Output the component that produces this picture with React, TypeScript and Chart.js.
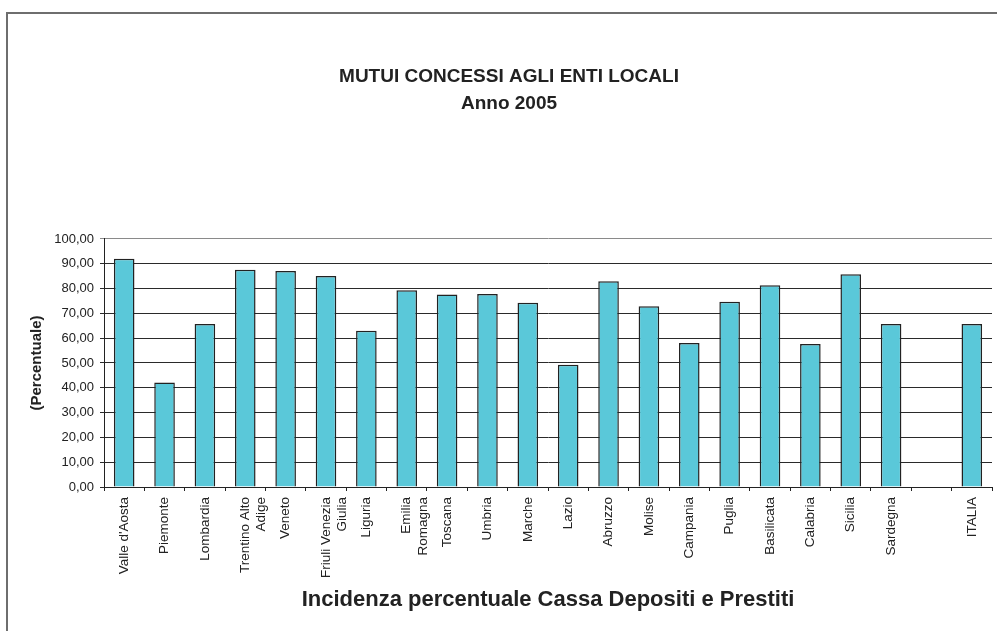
import React, { useEffect, useRef } from "react";
import { Chart, registerables } from "chart.js";

Chart.register(...registerables);

const categories: (string | string[])[] = [
  "Valle d'Aosta",
  "Piemonte",
  "Lombardia",
  ["Trentino Alto", "Adige"],
  "Veneto",
  ["Friuli Venezia", "Giulia"],
  "Liguria",
  ["Emilia", "Romagna"],
  "Toscana",
  "Umbria",
  "Marche",
  "Lazio",
  "Abruzzo",
  "Molise",
  "Campania",
  "Puglia",
  "Basilicata",
  "Calabria",
  "Sicilia",
  "Sardegna",
  "",
  "ITALIA",
];

const values: (number | null)[] = [
  92.0, 42.1, 65.7, 87.6, 87.1, 85.1, 63.0, 79.3, 77.6, 77.8, 74.3,
  49.3, 82.9, 72.9, 58.1, 74.7, 81.3, 57.7, 85.8, 65.7, null, 65.7,
];

const titleLines = ["MUTUI CONCESSI AGLI ENTI LOCALI", "Anno 2005"];
const xTitle = "Incidenza percentuale Cassa Depositi e Prestiti";
const yTitle = "(Percentuale)";

const FONT = "Arial, 'Liberation Sans', sans-serif";

const framePlugin = {
  id: "frame",
  beforeDraw(chart: any) {
    const ctx = chart.ctx;
    ctx.save();
    ctx.fillStyle = "#ffffff";
    ctx.fillRect(0, 0, chart.width, chart.height);
    ctx.strokeStyle = "#6e6e6e";
    ctx.lineWidth = 2;
    ctx.strokeRect(7, 13, 1200, 1000);
    ctx.restore();
  },
};

export default function App() {
  const ref = useRef<HTMLCanvasElement | null>(null);
  useEffect(() => {
    if (!ref.current) return;
    const chart = new Chart(ref.current, {
      type: "bar",
      data: {
        labels: categories,
        datasets: [
          {
            data: values,
            backgroundColor: "#5AC8D9",
            borderColor: "#222222",
            borderWidth: 1.5,
            barPercentage: 0.51,
            categoryPercentage: 1,
          },
        ],
      },
      options: {
        responsive: false,
        animation: false,
        devicePixelRatio: 1,
        layout: { padding: { left: 26, right: 5, top: 0, bottom: 0 } },
        plugins: {
          legend: { display: false },
          tooltip: { enabled: false },
          title: {
            display: true,
            text: titleLines,
            color: "#222222",
            font: { family: FONT, size: 19, weight: "bold", lineHeight: 1.42 },
            padding: { top: 63, bottom: 122 },
          },
        },
        scales: {
          x: {
            afterFit(scale: any) {
              scale.height = 144;
            },
            grid: {
              display: true,
              drawOnChartArea: false,
              drawTicks: true,
              tickLength: 4,
              offset: true,
              color: "#222222",
            },
            border: { display: true, color: "#222222", width: 1 },
            ticks: {
              autoSkip: false,
              maxRotation: 90,
              minRotation: 90,
              padding: 6,
              color: "#222222",
              font: { family: FONT, size: 13.5, lineHeight: 1.2 },
            },
            title: {
              display: true,
              text: xTitle,
              color: "#222222",
              font: { family: FONT, size: 22, weight: "bold", lineHeight: 1.2 },
              padding: { top: 0, bottom: 18 },
            },
          },
          y: {
            min: 0,
            max: 100,
            afterFit(scale: any) {
              scale.width = 78;
            },
            grid: {
              display: true,
              drawOnChartArea: true,
              drawTicks: true,
              tickLength: 4,
              color: (c: any) => (c.tick && c.tick.value === 100 ? "#8a8a8a" : "#2a2a2a"),
            },
            border: { display: true, color: "#222222", width: 1 },
            ticks: {
              stepSize: 10,
              padding: 6,
              color: "#222222",
              font: { family: FONT, size: 13 },
              callback: (v: any) => Number(v).toFixed(2).replace(".", ","),
            },
            title: {
              display: true,
              text: yTitle,
              color: "#222222",
              font: { family: FONT, size: 15, weight: "bold", lineHeight: 1.2 },
              padding: { top: 1.5, bottom: 0 },
            },
          },
        },
      },
      plugins: [framePlugin],
    });
    return () => chart.destroy();
  }, []);
  return (
    <div style={{ position: "absolute", left: 0, top: 0, width: 997, height: 631 }}>
      <canvas ref={ref} width={997} height={631} />
    </div>
  );
}
